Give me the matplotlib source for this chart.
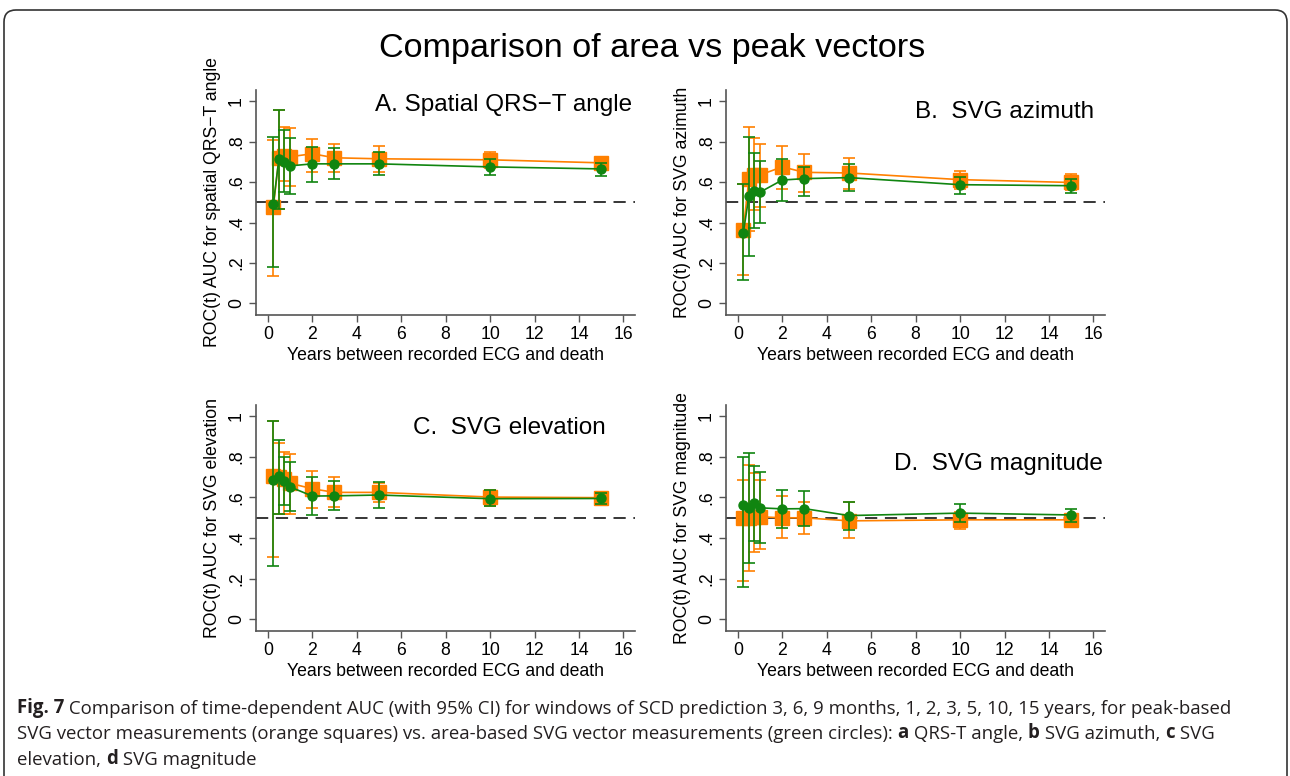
import matplotlib.pyplot as plt
from matplotlib.patches import FancyBboxPatch

plt.rcParams['font.family'] = ['Liberation Sans', 'DejaVu Sans']

years = [0.25, 0.5, 0.75, 1, 2, 3, 5, 10, 15]

# A. spatial QRS-T angle
a_peak = [0.475, 0.72, 0.73, 0.725, 0.74, 0.72, 0.715, 0.71, 0.695]
a_peak_lo = [0.138, 0.465, 0.605, 0.582, 0.65, 0.65, 0.648, 0.668, 0.67]
a_peak_hi = [0.81, 0.955, 0.873, 0.865, 0.815, 0.79, 0.776, 0.75, 0.72]
a_area = [0.49, 0.715, 0.70, 0.68, 0.69, 0.69, 0.69, 0.675, 0.665]
a_area_lo = [0.18, 0.465, 0.55, 0.543, 0.60, 0.615, 0.635, 0.635, 0.632]
a_area_hi = [0.822, 0.955, 0.858, 0.82, 0.775, 0.77, 0.75, 0.712, 0.696]

# B. SVG azimuth
b_peak = [0.365, 0.615, 0.635, 0.635, 0.675, 0.648, 0.645, 0.612, 0.598]
b_peak_lo = [0.142, 0.36, 0.46, 0.478, 0.566, 0.55, 0.567, 0.567, 0.56]
b_peak_hi = [0.59, 0.87, 0.817, 0.79, 0.777, 0.74, 0.719, 0.655, 0.638]
b_area = [0.35, 0.53, 0.555, 0.55, 0.61, 0.617, 0.622, 0.587, 0.582]
b_area_lo = [0.118, 0.237, 0.372, 0.397, 0.505, 0.53, 0.554, 0.543, 0.548]
b_area_hi = [0.588, 0.822, 0.743, 0.703, 0.715, 0.672, 0.688, 0.627, 0.613]

# C. SVG elevation
c_peak = [0.708, 0.70, 0.69, 0.67, 0.643, 0.625, 0.625, 0.602, 0.599]
c_peak_lo = [0.307, 0.52, 0.52, 0.52, 0.549, 0.553, 0.577, 0.559, 0.566]
c_peak_hi = [0.978, 0.87, 0.822, 0.816, 0.73, 0.70, 0.67, 0.638, 0.628]
c_area = [0.688, 0.705, 0.68, 0.652, 0.607, 0.608, 0.612, 0.594, 0.595]
c_area_lo = [0.262, 0.52, 0.562, 0.533, 0.515, 0.54, 0.549, 0.556, 0.569]
c_area_hi = [0.975, 0.885, 0.798, 0.774, 0.70, 0.68, 0.674, 0.635, 0.622]

# D. SVG magnitude
d_peak = [0.50, 0.50, 0.505, 0.505, 0.50, 0.50, 0.485, 0.49, 0.49]
d_peak_lo = [0.19, 0.238, 0.333, 0.348, 0.40, 0.421, 0.403, 0.444, 0.457]
d_peak_hi = [0.685, 0.762, 0.72, 0.684, 0.607, 0.58, 0.576, 0.53, 0.515]
d_area = [0.562, 0.549, 0.572, 0.549, 0.544, 0.545, 0.511, 0.523, 0.514]
d_area_lo = [0.16, 0.28, 0.385, 0.374, 0.448, 0.46, 0.44, 0.477, 0.48]
d_area_hi = [0.80, 0.818, 0.754, 0.725, 0.639, 0.63, 0.579, 0.566, 0.545]

y_ticks = [0, 0.2, 0.4, 0.6, 0.8, 1]
y_ticklabels = ['0', '.2', '.4', '.6', '.8', '1']
x_ticks = [0, 2, 4, 6, 8, 10, 12, 14, 16]

ORANGE = '#ff8000'
GREEN = '#108510'
W, H = 1290, 776

panels = [
    # (pixel box l, t, r, b), ylabel, title, title pos
    ((256, 90, 635, 315), 'ROC(t) AUC for spatial QRS\u2212T angle',
     'A. Spatial QRS\u2212T angle', (632, 110.5),
     (a_peak, a_peak_lo, a_peak_hi), (a_area, a_area_lo, a_area_hi)),
    ((726, 90, 1105, 315), 'ROC(t) AUC for SVG azimuth',
     'B.  SVG azimuth', (1094, 118),
     (b_peak, b_peak_lo, b_peak_hi), (b_area, b_area_lo, b_area_hi)),
    ((256, 405, 635, 631), 'ROC(t) AUC for SVG elevation',
     'C.  SVG elevation', (606, 434),
     (c_peak, c_peak_lo, c_peak_hi), (c_area, c_area_lo, c_area_hi)),
    ((726, 405, 1105, 631), 'ROC(t) AUC for SVG magnitude',
     'D.  SVG magnitude', (1103, 470),
     (d_peak, d_peak_lo, d_peak_hi), (d_area, d_area_lo, d_area_hi)),
]

fig = plt.figure(figsize=(W / 100, H / 100), dpi=100)

for (l, t, r, b), ylabel, title, (tx, ty), peak, area in panels:
    ax = fig.add_axes([l / W, 1 - b / H, (r - l) / W, (b - t) / H])
    ax.axhline(0.5, color='black', lw=1.1, ls=(0, (8, 5)), zorder=1)
    for (auc, lo, hi), col, mk, ms, z in [(peak, ORANGE, 's', 10, 2),
                                          (area, GREEN, 'o', 6.5, 3)]:
        err = [[v - e for v, e in zip(auc, lo)], [e - v for v, e in zip(auc, hi)]]
        ax.errorbar(years, auc, yerr=err, color=col, ecolor=col, marker=mk,
                    ms=ms, mec=col, lw=1.2, elinewidth=1.2, capsize=4.5,
                    capthick=1.2, zorder=z)
    ax.set_xlim(-0.53, 16.52)
    ax.set_ylim(-0.057, 1.055)
    ax.set_xticks(x_ticks)
    ax.set_yticks(y_ticks)
    ax.set_yticklabels(y_ticklabels)
    for s in ['top', 'right']:
        ax.spines[s].set_visible(False)
    for s in ['left', 'bottom']:
        ax.spines[s].set_color('#555555')
        ax.spines[s].set_linewidth(1.2)
    ax.tick_params(direction='out', length=5, width=1, color='#555555',
                   labelsize=12.7, pad=3)
    ax.tick_params(axis='y', labelrotation=90)
    for lab in ax.get_yticklabels():
        lab.set_va('center')
    ax.set_xlabel('Years between recorded ECG and death', fontsize=12.7, labelpad=3)
    ax.set_ylabel(ylabel, fontsize=12.7, labelpad=5)
    fig.text(tx / W, 1 - ty / H, title, ha='right', va='baseline', fontsize=17.5)

fig.text(652 / W, 1 - 57 / H, 'Comparison of area vs peak vectors',
         ha='center', va='baseline', fontsize=24.6)

# caption with bold pieces, chained piece by piece
cap = fig.add_axes([0, 0, 1, 1])
cap.axis('off')
caption = [
    [('Fig. 7', 'bold'),
     (' Comparison of time-dependent AUC (with 95% CI) for windows of SCD prediction '
      '3, 6, 9 months, 1, 2, 3, 5, 10, 15 years, for peak-based', 'normal')],
    [('SVG vector measurements (orange squares) vs. area-based SVG vector measurements '
      '(green circles): ', 'normal'), ('a', 'bold'), (' QRS-T angle, ', 'normal'),
     ('b', 'bold'), (' SVG azimuth, ', 'normal'), ('c', 'bold'), (' SVG', 'normal')],
    [('elevation, ', 'normal'), ('d', 'bold'), (' SVG magnitude', 'normal')],
]
for i, line in enumerate(caption):
    base = 713 + i * 26
    prev = None
    for txt, wt in line:
        if prev is None:
            prev = cap.text(17 / W, 1 - base / H, txt, family='Open Sans',
                            fontsize=13.4, weight=wt, color='#231f20',
                            ha='left', va='baseline')
        else:
            prev = cap.annotate(txt, xy=(1, 0), xycoords=prev, family='Open Sans',
                                fontsize=13.4, weight=wt, color='#231f20',
                                ha='left', va='bottom')

frame = FancyBboxPatch((0.04, -0.3), 12.83, 7.96, transform=fig.dpi_scale_trans,
                       boxstyle='round,pad=0,rounding_size=0.12',
                       fill=False, ec='#333333', lw=1.2)
fig.add_artist(frame)

fig.savefig('out.png', dpi=100)
